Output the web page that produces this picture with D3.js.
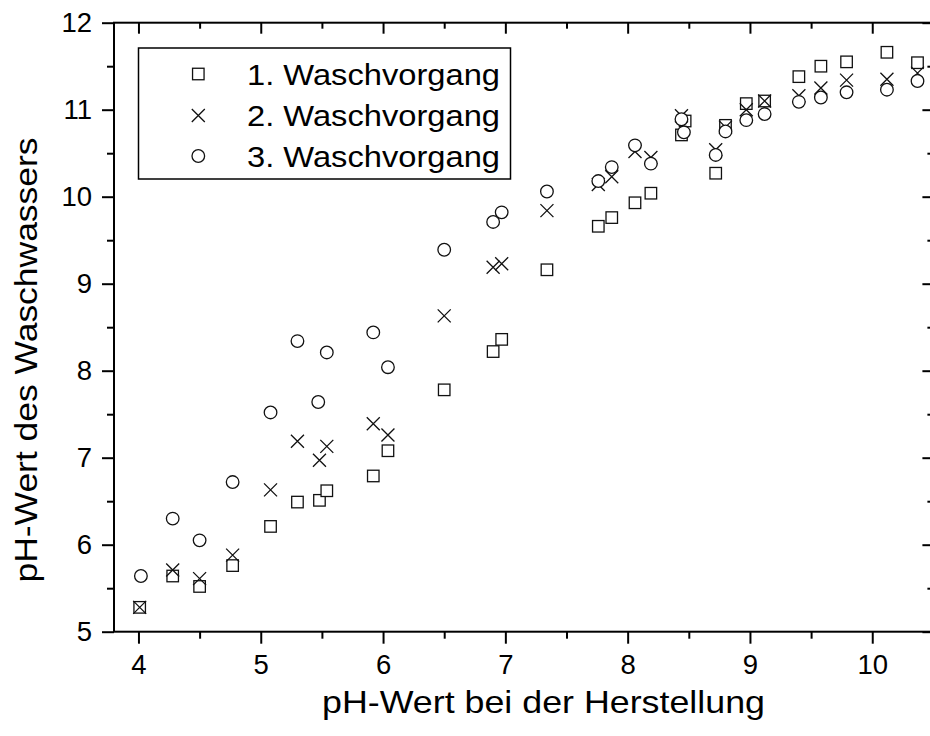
<!DOCTYPE html>
<html>
<head>
<meta charset="utf-8">
<script src="https://cdn.jsdelivr.net/npm/d3@7/dist/d3.min.js"></script>
<style>
  html, body { margin: 0; padding: 0; background: #fff; }
  svg { display: block; font-family: "Liberation Sans", Arial, sans-serif; }
</style>
</head>
<body>
<svg id="chart" width="930" height="736"></svg>
<script>
// ---- data ----
const seriesNames = ["1. Waschvorgang", "2. Waschvorgang", "3. Waschvorgang"];

const x1 = [4.01, 4.28, 4.50, 4.77, 5.08, 5.30, 5.48, 5.54, 5.92, 6.04, 6.50, 6.90, 6.97, 7.34, 7.76, 7.87, 8.06, 8.19, 8.44, 8.47, 8.72, 8.80, 8.97, 9.12, 9.40, 9.58, 9.79, 10.12, 10.37];
const y1 = [5.28, 5.64, 5.52, 5.76, 6.21, 6.49, 6.51, 6.62, 6.79, 7.08, 7.78, 8.22, 8.36, 9.16, 9.66, 9.76, 9.93, 10.04, 10.71, 10.87, 10.27, 10.82, 11.07, 11.10, 11.38, 11.50, 11.55, 11.66, 11.54];

const x2 = [4.01, 4.28, 4.50, 4.77, 5.08, 5.30, 5.48, 5.54, 5.92, 6.04, 6.50, 6.90, 6.97, 7.34, 7.76, 7.87, 8.06, 8.19, 8.44, 8.72, 8.80, 8.97, 9.12, 9.40, 9.58, 9.79, 10.12, 10.37];
const y2 = [5.28, 5.71, 5.61, 5.88, 6.63, 7.19, 6.97, 7.13, 7.39, 7.26, 8.63, 9.19, 9.23, 9.84, 10.14, 10.23, 10.52, 10.45, 10.93, 10.54, 10.80, 11.00, 11.10, 11.16, 11.25, 11.34, 11.35, 11.42];

const x3 = [4.02, 4.28, 4.50, 4.77, 5.08, 5.30, 5.47, 5.54, 5.92, 6.04, 6.50, 6.90, 6.97, 7.34, 7.76, 7.87, 8.06, 8.19, 8.44, 8.46, 8.72, 8.80, 8.97, 9.12, 9.40, 9.58, 9.79, 10.12, 10.37];
const y3 = [5.64, 6.30, 6.05, 6.72, 7.52, 8.34, 7.64, 8.21, 8.44, 8.04, 9.39, 9.71, 9.82, 10.06, 10.18, 10.34, 10.59, 10.38, 10.89, 10.74, 10.48, 10.75, 10.88, 10.95, 11.09, 11.14, 11.20, 11.23, 11.33];

const xTicks = [4, 5, 6, 7, 8, 9, 10];
const xMinor = [4.5, 5.5, 6.5, 7.5, 8.5, 9.5];
const yTicks = [5, 6, 7, 8, 9, 10, 11, 12];
const yMinor = [5.5, 6.5, 7.5, 8.5, 9.5, 10.5, 11.5];
const xTitle = "pH-Wert bei der Herstellung";
const yTitle = "pH-Wert des Waschwassers";

// ---- layout ----
const svg = d3.select("#chart");
const x = d3.scaleLinear().domain([3.8, 10.5]).range([114, 933.4]);
const y = d3.scaleLinear().domain([5, 12]).range([631.7, 22.7]);
const L = x.range()[0], R = x.range()[1], T = y.range()[1], B = y.range()[0];

const axes = svg.append("g");

// bottom axis
const gB = axes.append("g").attr("transform", `translate(0,${B})`)
  .call(d3.axisBottom(x).tickValues(xTicks).tickSize(12).tickPadding(11).tickFormat(d3.format("d")));
gB.append("g").call(d3.axisBottom(x).tickValues(xMinor).tickSize(7).tickFormat(""));
// top axis (inward)
const gT = axes.append("g").attr("transform", `translate(0,${T})`)
  .call(d3.axisBottom(x).tickValues(xTicks).tickSize(11).tickFormat(""));
gT.append("g").call(d3.axisBottom(x).tickValues(xMinor).tickSize(6).tickFormat(""));
// left axis
const gL = axes.append("g").attr("transform", `translate(${L},0)`)
  .call(d3.axisLeft(y).tickValues(yTicks).tickSize(12).tickPadding(10).tickFormat(d3.format("d")));
gL.append("g").call(d3.axisLeft(y).tickValues(yMinor).tickSize(7).tickFormat(""));
// right axis (inward)
const gR = axes.append("g").attr("transform", `translate(${R},0)`)
  .call(d3.axisLeft(y).tickValues(yTicks).tickSize(11).tickFormat(""));
gR.append("g").call(d3.axisLeft(y).tickValues(yMinor).tickSize(6).tickFormat(""));

axes.selectAll("path.domain").remove();
axes.selectAll(".tick line").attr("stroke", "#000").attr("stroke-width", 2);
axes.selectAll(".tick text").attr("fill", "#000").attr("font-size", 27.5)
  .attr("font-family", "Liberation Sans, Arial, sans-serif");

// frame lines
axes.append("rect").attr("x", L).attr("y", T).attr("width", R - L).attr("height", B - T)
  .attr("fill", "none").attr("stroke", "#000").attr("stroke-width", 2);

// ---- markers ----
const S = 11.5, H = 6.5, Rc = 6.3;
function drawSquares(g, xs, ys) {
  g.selectAll("rect").data(xs.map((v, i) => [v, ys[i]])).join("rect")
    .attr("x", d => x(d[0]) - S / 2).attr("y", d => y(d[1]) - S / 2)
    .attr("width", S).attr("height", S)
    .attr("fill", "#fff").attr("stroke", "#111").attr("stroke-width", 1.3);
}
function drawCrosses(g, xs, ys) {
  g.selectAll("path").data(xs.map((v, i) => [v, ys[i]])).join("path")
    .attr("d", d => {
      const cx = x(d[0]), cy = y(d[1]);
      return `M${cx - H},${cy - H}L${cx + H},${cy + H}M${cx - H},${cy + H}L${cx + H},${cy - H}`;
    })
    .attr("fill", "none").attr("stroke", "#111").attr("stroke-width", 1.3);
}
function drawCircles(g, xs, ys) {
  g.selectAll("circle").data(xs.map((v, i) => [v, ys[i]])).join("circle")
    .attr("cx", d => x(d[0])).attr("cy", d => y(d[1])).attr("r", Rc)
    .attr("fill", "#fff").attr("stroke", "#111").attr("stroke-width", 1.3);
}
drawSquares(svg.append("g"), x1, y1);
drawCrosses(svg.append("g"), x2, y2);
drawCircles(svg.append("g"), x3, y3);

// ---- axis titles ----
svg.append("text").attr("x", (322 + 765) / 2).attr("y", 713)
  .attr("text-anchor", "middle").attr("font-size", 32)
  .attr("textLength", 443).attr("lengthAdjust", "spacingAndGlyphs")
  .attr("fill", "#000").text(xTitle);
svg.append("text").attr("transform", "translate(37,360) rotate(-90)")
  .attr("text-anchor", "middle").attr("font-size", 32)
  .attr("textLength", 445).attr("lengthAdjust", "spacingAndGlyphs")
  .attr("fill", "#000").text(yTitle);

// ---- legend ----
const lg = svg.append("g");
lg.append("rect").attr("x", 138.5).attr("y", 48).attr("width", 372).attr("height", 131)
  .attr("fill", "#fff").attr("stroke", "#000").attr("stroke-width", 1.5);
const rowY = [74, 115.5, 156];
const lx = 198.3;
drawSquares(lg.append("g"), [x.invert(lx)], [y.invert(rowY[0])]);
drawCrosses(lg.append("g"), [x.invert(lx)], [y.invert(rowY[1])]);
drawCircles(lg.append("g"), [x.invert(lx)], [y.invert(rowY[2])]);
lg.selectAll("text").data(seriesNames).join("text")
  .attr("x", 247).attr("y", (d, i) => rowY[i] + 10.5)
  .attr("font-size", 29).attr("textLength", 253).attr("lengthAdjust", "spacingAndGlyphs")
  .attr("fill", "#000").text(d => d);
</script>
</body>
</html>
